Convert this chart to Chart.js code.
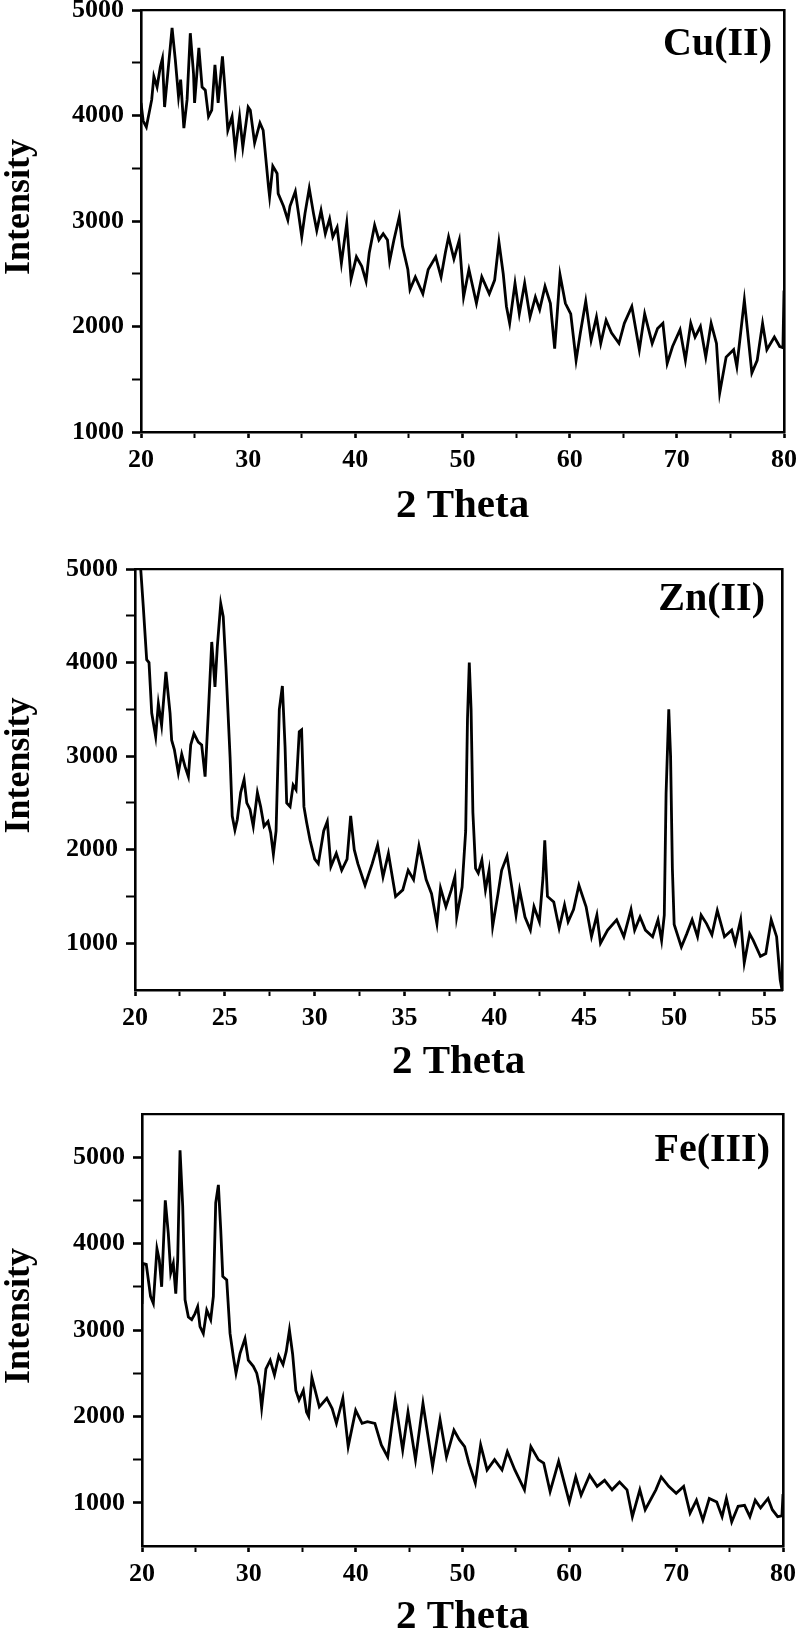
<!DOCTYPE html>
<html>
<head>
<meta charset="utf-8">
<script src="https://cdn.jsdelivr.net/npm/chart.js@4.4.1/dist/chart.umd.min.js"></script>
<style>
  html, body { margin: 0; padding: 0; background: #fff; }
  #page { position: relative; width: 800px; height: 1631px; overflow: hidden; background: #fff; }
  #page canvas { position: absolute; left: 0; }
</style>
</head>
<body>
<div id="page">
  <canvas id="cuChart" width="800" height="540" style="top:0px"></canvas>
  <canvas id="znChart" width="800" height="555" style="top:540px"></canvas>
  <canvas id="feChart" width="800" height="560" style="top:1095px"></canvas>
</div>
<script>
// Cu(II) pattern
var cuTheta = [20.0, 20.2, 20.5, 21.0, 21.2, 21.5, 21.8, 22.0, 22.2, 22.5, 22.9, 23.2, 23.5, 23.7, 24.0, 24.3, 24.6, 24.9, 25.0, 25.4,
  25.7, 26.0, 26.3, 26.6, 26.9, 27.2, 27.6, 27.8, 28.1, 28.5, 28.8, 29.0, 29.2, 29.5, 30.0, 30.2, 30.6, 31.1, 31.4, 31.9,
  32.0, 32.3, 32.7, 32.8, 33.3, 33.7, 33.9, 34.4, 34.7, 35.0, 35.3, 35.7, 36.1, 36.4, 36.8, 37.2, 37.6, 37.9, 38.3, 38.7,
  39.2, 39.6, 40.1, 40.6, 41.0, 41.3, 41.8, 42.2, 42.6, 43.0, 43.2, 43.6, 44.1, 44.4, 44.9, 45.1, 45.6, 46.3, 46.8, 47.5,
  48.0, 48.4, 48.7, 49.2, 49.7, 50.1, 50.6, 51.3, 51.8, 52.5, 53.0, 53.4, 53.8, 54.1, 54.4, 54.9, 55.3, 55.8, 56.3, 56.8,
  57.2, 57.7, 58.2, 58.6, 59.1, 59.6, 60.1, 60.6, 61.0, 61.5, 62.0, 62.5, 62.9, 63.4, 63.9, 64.6, 65.1, 65.8, 66.5, 67.0,
  67.7, 68.2, 68.7, 69.1, 69.6, 70.3, 70.8, 71.3, 71.7, 72.2, 72.7, 73.2, 73.7, 74.0, 74.6, 75.3, 75.6, 76.3, 77.0, 77.5,
  78.0, 78.4, 79.1, 79.6, 79.9, 80.0];
var cuIntensity = [4120, 3950, 3890, 4150, 4370, 4270, 4460, 4540, 4080, 4400, 4830, 4530, 4180, 4340, 3880, 4150, 4780, 4400, 4120, 4640,
  4270, 4240, 3990, 4050, 4480, 4120, 4560, 4300, 3860, 3990, 3670, 3830, 3990, 3700, 4080, 4050, 3740, 3930, 3860, 3320,
  3230, 3520, 3450, 3260, 3140, 3010, 3140, 3280, 3070, 2850, 3070, 3310, 3070, 2910, 3100, 2880, 3020, 2850, 2940, 2600,
  2980, 2450, 2660, 2570, 2430, 2700, 2960, 2820, 2880, 2820, 2620, 2820, 3040, 2760, 2540, 2350, 2470, 2310, 2540, 2660,
  2470, 2700, 2850, 2640, 2820, 2280, 2540, 2220, 2470, 2310, 2440, 2800, 2500, 2190, 2030, 2410, 2120, 2410, 2090, 2280,
  2160, 2380, 2220, 1790, 2490, 2220, 2120, 1680, 1940, 2240, 1870, 2090, 1840, 2060, 1940, 1840, 2030, 2190, 1780, 2120,
  1840, 1980, 2030, 1650, 1810, 1970, 1680, 2030, 1900, 2000, 1710, 2030, 1840, 1370, 1710, 1780, 1620, 2250, 1560, 1680,
  2030, 1780, 1900, 1810, 1800, 2340];

// Zn(II) pattern, middle panel
var znTheta = [20.0, 20.3, 20.46, 20.65, 20.78, 20.93, 21.15, 21.3, 21.48, 21.72, 21.95, 22.04, 22.19, 22.41, 22.6, 22.78, 22.97, 23.1, 23.28, 23.52,
  23.71, 23.9, 24.08, 24.27, 24.45, 24.58, 24.77, 24.91, 25.06, 25.29, 25.41, 25.56, 25.69, 25.88, 26.07, 26.22, 26.4, 26.58, 26.81, 26.99,
  27.18, 27.4, 27.55, 27.7, 27.85, 28.03, 28.2, 28.35, 28.44, 28.63, 28.8, 28.96, 29.14, 29.27, 29.4, 29.55, 29.74, 30.0, 30.2, 30.5,
  30.7, 30.9, 31.2, 31.5, 31.8, 32.0, 32.2, 32.4, 32.8, 33.2, 33.5, 33.8, 34.1, 34.5, 34.9, 35.2, 35.5, 35.8, 36.2, 36.5,
  36.8, 37.0, 37.3, 37.6, 37.8, 37.9, 38.2, 38.4, 38.5, 38.6, 38.7, 38.8, 38.95, 39.1, 39.3, 39.5, 39.7, 39.9, 40.2, 40.4,
  40.7, 40.9, 41.2, 41.4, 41.7, 42.0, 42.2, 42.5, 42.7, 42.8, 42.95, 43.3, 43.6, 43.9, 44.1, 44.4, 44.7, 45.1, 45.4, 45.7,
  45.9, 46.3, 46.8, 47.2, 47.6, 47.8, 48.1, 48.4, 48.8, 49.1, 49.3, 49.45, 49.55, 49.7, 49.8, 49.9, 50.0, 50.4, 50.7, 51.0,
  51.3, 51.5, 51.8, 52.1, 52.4, 52.8, 53.2, 53.4, 53.7, 53.9, 54.2, 54.4, 54.8, 55.1, 55.4, 55.7, 55.9, 56.0];
var znIntensity = [5400, 5050, 4600, 4030, 4000, 3460, 3210, 3560, 3330, 3900, 3460, 3170, 3070, 2820, 3020, 2890, 2780, 3120, 3240, 3150,
  3120, 2780, 3460, 4220, 3740, 4170, 4630, 4490, 3950, 2990, 2360, 2210, 2320, 2610, 2750, 2500, 2430, 2250, 2610, 2460,
  2250, 2300, 2180, 1950, 2200, 3500, 3750, 3100, 2500, 2460, 2690, 2640, 3260, 3280, 2460, 2290, 2100, 1900, 1850, 2200,
  2300, 1820, 1960, 1780, 1900, 2360, 2000, 1850, 1620, 1850, 2050, 1710, 1960, 1500, 1570, 1780, 1680, 2040, 1680, 1530,
  1210, 1590, 1390, 1570, 1710, 1280, 1600, 2200, 3400, 4000, 3500, 2400, 1800, 1750, 1890, 1570, 1780, 1180, 1530, 1780,
  1930, 1680, 1300, 1570, 1280, 1140, 1390, 1230, 1700, 2100, 1500, 1440, 1160, 1410, 1230, 1360, 1620, 1390, 1070, 1300,
  1000, 1140, 1250, 1070, 1360, 1140, 1280, 1140, 1070, 1250, 1030, 1300, 2600, 3500, 3000, 1800, 1200, 960, 1100, 1250,
  1070, 1300, 1210, 1090, 1350, 1070, 1140, 1000, 1250, 790, 1100, 1030, 860, 890, 1250, 1070, 610, 500];

// Fe(III) pattern, bottom panel
var feTheta = [20.0, 20.1, 20.4, 20.8, 21.06, 21.4, 21.62, 21.84, 22.18, 22.46, 22.69, 22.93, 23.16, 23.34, 23.56, 23.81, 24.03, 24.34, 24.65, 24.96,
  25.21, 25.43, 25.74, 26.06, 26.43, 26.68, 26.9, 27.15, 27.37, 27.56, 27.93, 28.24, 28.55, 28.8, 29.18, 29.64, 29.95, 30.42, 30.74, 31.0,
  31.2, 31.6, 32.0, 32.4, 32.8, 33.2, 33.5, 33.8, 34.1, 34.4, 34.7, 35.1, 35.4, 35.6, 35.9, 36.6, 37.3, 37.8, 38.2, 38.8,
  39.3, 40.0, 40.6, 41.1, 41.8, 42.4, 43.0, 43.7, 44.4, 44.9, 45.6, 46.3, 47.2, 47.9, 48.5, 49.2, 49.7, 50.2, 50.6, 51.2,
  51.7, 52.3, 53.0, 53.7, 54.2, 54.9, 55.8, 56.4, 57.1, 57.6, 58.2, 59.0, 60.0, 60.6, 61.1, 61.9, 62.6, 63.3, 64.0, 64.7,
  65.4, 65.9, 66.6, 67.1, 68.1, 68.6, 69.3, 70.0, 70.7, 71.3, 71.9, 72.5, 73.1, 73.8, 74.3, 74.7, 75.2, 75.8, 76.4, 76.9,
  77.4, 77.9, 78.6, 79.0, 79.5, 79.9, 80.0];
var feIntensity = [3300, 3770, 3760, 3390, 3310, 3940, 3810, 3500, 4500, 4120, 3660, 3770, 3420, 3810, 5080, 4430, 3350, 3150, 3120, 3190,
  3270, 3040, 2960, 3230, 3120, 3390, 4470, 4680, 4160, 3620, 3580, 2960, 2690, 2500, 2730, 2900, 2650, 2580, 2500, 2350,
  2100, 2550, 2650, 2480, 2700, 2600, 2750, 3000, 2720, 2300, 2190, 2300, 2050, 2000, 2450, 2110, 2210, 2090, 1920, 2210,
  1650, 2070, 1920, 1940, 1920, 1670, 1530, 2190, 1610, 2050, 1500, 2150, 1420, 1960, 1530, 1840, 1730, 1650, 1460, 1230,
  1670, 1380, 1500, 1380, 1590, 1380, 1150, 1650, 1500, 1460, 1130, 1480, 1010, 1300, 1090, 1320, 1190, 1260, 1150, 1240,
  1150, 840, 1150, 920, 1150, 1300, 1190, 1110, 1190, 880, 1030, 800, 1050, 1010, 840, 1050, 780, 960, 970, 840,
  1030, 940, 1050, 920, 840, 850, 1100];

// axis ticks (all tick marks) and the ones that carry a label
var thetaTicks = [20, 25, 30, 35, 40, 45, 50, 55, 60, 65, 70, 75, 80];
var thetaLabels = [20, 30, 40, 50, 60, 70, 80];
var znThetaTicks = [20, 22.5, 25, 27.5, 30, 32.5, 35, 37.5, 40, 42.5, 45, 47.5, 50, 52.5, 55];
var znThetaLabels = [20, 25, 30, 35, 40, 45, 50, 55];
var intensityTicks = [1000, 1500, 2000, 2500, 3000, 3500, 4000, 4500, 5000];
var intensityLabels = [1000, 2000, 3000, 4000, 5000];

var serif = "'Liberation Serif', 'Times New Roman', serif";

// sample name in the corner and the rotated "Intensity" title
var panelText = {
  id: 'panelText',
  afterDraw: function(chart, args, opts) {
    var ctx = chart.ctx, area = chart.chartArea;
    ctx.save();
    ctx.fillStyle = '#000';
    ctx.font = 'bold 40px ' + serif;
    ctx.textAlign = 'right';
    ctx.textBaseline = 'alphabetic';
    ctx.fillText(opts.text, area.right - opts.dx, area.top + opts.dy);

    ctx.font = 'bold 36px ' + serif;
    ctx.textAlign = 'center';
    ctx.textBaseline = 'middle';
    ctx.translate(20, (area.top + area.bottom) / 2 - 14);
    ctx.rotate(-Math.PI / 2);
    ctx.fillText('Intensity', 0, 0);
    ctx.restore();
  }
};

function toPoints(xs, ys) {
  var pts = [];
  for (var i = 0; i < xs.length; i++) {
    pts.push({x: xs[i], y: ys[i]});
  }
  return pts;
}

function makePanel(id, xs, ys, p) {
  var ctx = document.getElementById(id).getContext('2d');
  var h = document.getElementById(id).height;
  var tickFont = {family: serif, size: 26, weight: 'bold'};

  return new Chart(ctx, {
    type: 'line',
    data: {
      datasets: [{
        data: toPoints(xs, ys),
        borderColor: '#000',
        borderWidth: 2.8,
        pointRadius: 0,
        tension: 0,
        fill: false
      }]
    },
    plugins: [panelText],
    options: {
      responsive: false,
      animation: false,
      events: [],
      layout: {padding: {top: p.top, right: 800 - p.right, left: 0, bottom: 0}},
      plugins: {
        legend: {display: false},
        tooltip: {enabled: false},
        panelText: {text: p.label, dx: p.labelDx, dy: p.labelDy}
      },
      scales: {
        x: {
          type: 'linear',
          position: 'bottom',
          min: p.xMin,
          max: p.xMax,
          bounds: 'data',
          afterBuildTicks: function(s) {
            s.ticks = p.xTicks.map(function(v) { return {value: v}; });
          },
          afterFit: function(s) {
            s.height = h - p.bottom;
            s.paddingLeft = 0;
            s.paddingRight = 0;
          },
          border: {display: true, color: '#000', width: 2.6},
          grid: {
            drawOnChartArea: false,
            drawTicks: true,
            tickLength: 6,
            tickColor: '#000',
            tickWidth: function(c) { return p.xLabels.indexOf(c.tick.value) >= 0 ? 2.6 : 2; }
          },
          ticks: {
            autoSkip: false,
            maxRotation: 0,
            padding: 7,
            color: '#000',
            font: tickFont,
            callback: function(v) { return p.xLabels.indexOf(v) >= 0 ? String(v) : ''; }
          },
          title: {
            display: true,
            text: '2 Theta',
            color: '#000',
            font: {family: serif, size: 41, weight: 'bold'},
            padding: {top: 0, bottom: p.titlePad}
          }
        },
        y: {
          type: 'linear',
          position: 'left',
          min: p.yMin,
          max: p.yMax,
          bounds: 'data',
          afterBuildTicks: function(s) {
            s.ticks = intensityTicks.map(function(v) { return {value: v}; });
          },
          afterFit: function(s) {
            s.width = p.left;
            s.paddingTop = 0;
            s.paddingBottom = 0;
          },
          border: {display: true, color: '#000', width: 2.6},
          grid: {
            drawOnChartArea: false,
            drawTicks: true,
            tickLength: 9,
            tickColor: '#000',
            tickWidth: function(c) { return intensityLabels.indexOf(c.tick.value) >= 0 ? 2.6 : 2; }
          },
          ticks: {
            autoSkip: false,
            padding: 8,
            color: '#000',
            font: tickFont,
            callback: function(v) { return intensityLabels.indexOf(v) >= 0 ? String(v) : ''; }
          }
        },
        xTop: {
          type: 'linear',
          position: 'top',
          min: p.xMin,
          max: p.xMax,
          afterFit: function(s) { s.height = 0; s.paddingLeft = 0; s.paddingRight = 0; },
          border: {display: true, color: '#000', width: 2.2},
          grid: {display: true, drawOnChartArea: false, drawTicks: false},
          ticks: {display: false}
        },
        yRight: {
          type: 'linear',
          position: 'right',
          min: p.yMin,
          max: p.yMax,
          afterFit: function(s) { s.width = 0; s.paddingTop = 0; s.paddingBottom = 0; },
          border: {display: true, color: '#000', width: 2.6},
          grid: {display: true, drawOnChartArea: false, drawTicks: false},
          ticks: {display: false}
        }
      }
    }
  });
}

makePanel('cuChart', cuTheta, cuIntensity, {
  left: 141, right: 784, top: 10, bottom: 432,
  xMin: 20, xMax: 80, yMin: 1000, yMax: 5000,
  xTicks: thetaTicks, xLabels: thetaLabels,
  titlePad: 9, label: 'Cu(II)', labelDx: 12, labelDy: 45
});

makePanel('znChart', znTheta, znIntensity, {
  left: 135, right: 782, top: 29, bottom: 450,
  xMin: 20, xMax: 56, yMin: 500, yMax: 5000,
  xTicks: znThetaTicks, xLabels: znThetaLabels,
  titlePad: 8, label: 'Zn(II)', labelDx: 17, labelDy: 41
});

makePanel('feChart', feTheta, feIntensity, {
  left: 142, right: 783, top: 19, bottom: 451,
  xMin: 20, xMax: 80, yMin: 500, yMax: 5500,
  xTicks: thetaTicks, xLabels: thetaLabels,
  titlePad: 13, label: 'Fe(III)', labelDx: 13, labelDy: 47
});
</script>
</body>
</html>
